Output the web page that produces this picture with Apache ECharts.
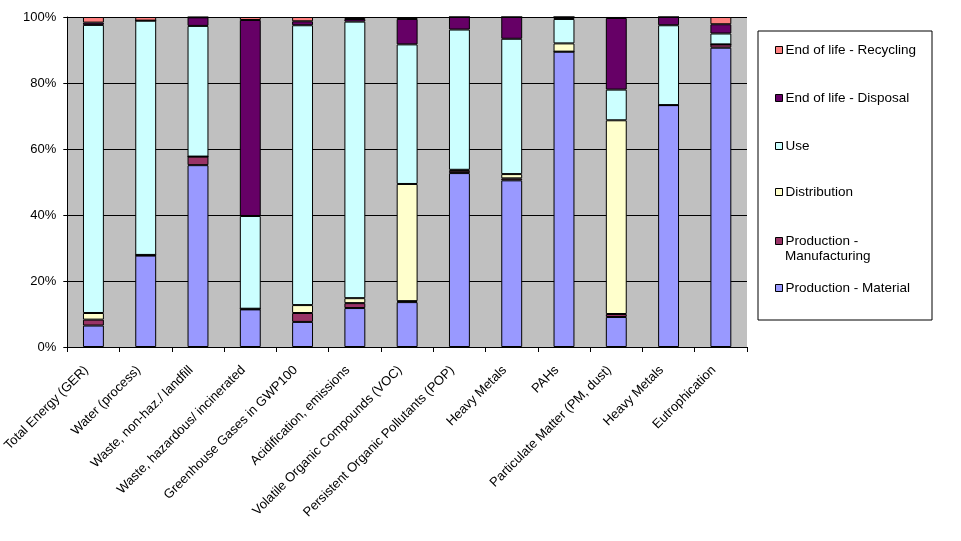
<!DOCTYPE html>
<html><head><meta charset="utf-8">
<script src="https://cdn.jsdelivr.net/npm/echarts@6/dist/echarts.min.js"></script>
<style>html,body{margin:0;padding:0;background:#fff}#c{width:961px;height:541px}</style>
</head><body><div id="c"></div>
<script>
const categories = ["Total Energy (GER)","Water (process)","Waste, non-haz./ landfill","Waste, hazardous/ incinerated","Greenhouse Gases in GWP100","Acidification, emissions","Volatile Organic Compounds (VOC)","Persistent Organic Pollutants (POP)","Heavy Metals","PAHs","Particulate Matter (PM, dust)","Heavy Metals","Eutrophication"];
const prodMaterial      = [6.5, 27.7, 55.1, 11.4, 7.6, 11.8, 13.6, 52.7, 50.5, 89.5, 9.1, 73.3, 90.7];
const prodManufacturing = [1.8, 0.2, 2.6, 0.2, 2.7, 1.5, 0.3, 0.7, 0.6, 0, 0.9, 0, 1.0];
const distribution      = [2.0, 0, 0, 0, 2.4, 1.5, 35.5, 0.3, 1.3, 2.5, 58.7, 0, 0];
const use               = [87.3, 71.0, 39.6, 28.1, 84.8, 83.8, 42.3, 42.5, 41.0, 7.4, 9.3, 24.2, 3.3];
const eolDisposal       = [0.7, 0, 2.6, 59.4, 1.2, 0.8, 7.7, 3.8, 6.6, 0.6, 21.7, 2.5, 2.8];
const eolRecycling      = [1.7, 1.1, 0.1, 0.9, 1.3, 0.6, 0.6, 0, 0, 0, 0.3, 0, 2.2];
const yTicks = [0, 20, 40, 60, 80, 100];

const FONT = '"Liberation Sans", Arial, sans-serif';
const LEG_FS = 13.5;
const seriesDefs = [
  {name: 'Production - Material', data: prodMaterial, color: '#9999FF'},
  {name: 'Production - Manufacturing', data: prodManufacturing, color: '#993366'},
  {name: 'Distribution', data: distribution, color: '#FFFFCC'},
  {name: 'Use', data: use, color: '#CCFFFF'},
  {name: 'End of life - Disposal', data: eolDisposal, color: '#660066'},
  {name: 'End of life - Recycling', data: eolRecycling, color: '#FF8080'}
];
const legendTops = {
  'End of life - Recycling': 42,
  'End of life - Disposal': 90,
  'Use': 138,
  'Distribution': 184,
  'Production - Manufacturing': 233,
  'Production - Material': 280
};
const chart = echarts.init(document.getElementById('c'));
chart.setOption({
  animation: false,
  backgroundColor: '#ffffff',
  textStyle: {fontFamily: FONT},
  grid: {left: 66, right: 214, top: 17, bottom: 194, show: true, backgroundColor: '#C0C0C0', borderWidth: 0},
  graphic: [
    {type: 'rect', shape: {x: 758, y: 31, width: 174, height: 289}, style: {fill: '#fff', stroke: '#000', lineWidth: 1}, z: 0},
    {type: 'text', x: 785, y: 256, style: {text: 'Manufacturing', font: LEG_FS + 'px ' + FONT, fill: '#000', verticalAlign: 'middle', textVerticalAlign: 'middle'}, z: 10}
  ],
  legend: seriesDefs.map(s => ({
    data: [s.name],
    orient: 'vertical',
    left: 775,
    top: legendTops[s.name],
    padding: 0,
    itemWidth: 7,
    itemHeight: 7,
    itemGap: 5,
    icon: 'rect',
    z: 10,
    formatter: n => n === 'Production - Manufacturing' ? 'Production -' : n,
    textStyle: {fontFamily: FONT, fontSize: LEG_FS, color: '#000', lineHeight: 16, padding: [0,0,0,-2]},
    itemStyle: {borderColor: '#000', borderWidth: 1}
  })),
  xAxis: {
    type: 'category',
    data: categories,
    axisLine: {lineStyle: {color: '#000', width: 1}},
    axisTick: {show: true, length: 5, lineStyle: {color: '#000'}, alignWithLabel: false},
    axisLabel: {interval: 0, rotate: 45, fontSize: 13, color: '#000', fontFamily: FONT, margin: 14, padding: [0, 10, 0, 0]}
  },
  yAxis: {
    type: 'value',
    min: yTicks[0], max: yTicks[yTicks.length - 1], interval: 20,
    axisLine: {show: true, lineStyle: {color: '#000', width: 1}},
    axisTick: {show: true, length: 4, lineStyle: {color: '#000'}},
    axisLabel: {formatter: v => v + '%', fontSize: 13, color: '#000', fontFamily: FONT, margin: 11},
    splitLine: {show: true, lineStyle: {color: '#000', width: 1}}
  },
  series: seriesDefs.map(s => ({
    name: s.name,
    type: 'bar',
    stack: 'total',
    data: s.data,
    barCategoryGap: '60%',
    itemStyle: {color: s.color, borderColor: '#000', borderWidth: 1},
    emphasis: {disabled: true}
  }))
});
</script>
</body></html>
